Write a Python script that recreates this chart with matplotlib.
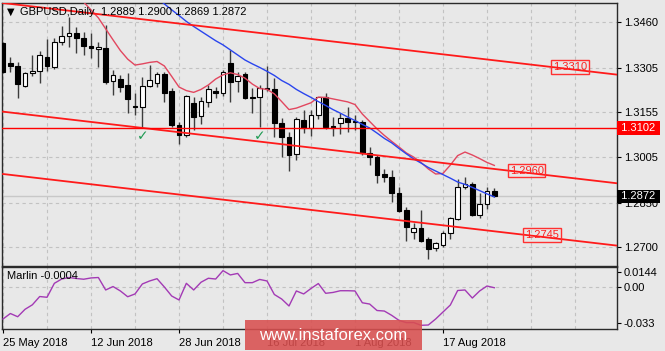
import numpy as np
import matplotlib
matplotlib.use('Agg')
import matplotlib.pyplot as plt
from matplotlib.patches import Rectangle
from matplotlib.transforms import blended_transform_factory

plt.rcParams['font.family'] = ['Liberation Sans', 'DejaVu Sans']
plt.rcParams['font.size'] = 8

# daily GBPUSD candles, 25 May 2018 .. 28 Aug 2018
opens = [1.3387, 1.3320, 1.3311, 1.3243, 1.3286, 1.3295, 1.3342, 1.3308, 1.3391, 1.3412,
         1.3421, 1.3404, 1.3379, 1.3367, 1.3373, 1.3261, 1.3266, 1.3247, 1.3176, 1.3172,
         1.3243, 1.3255, 1.3283, 1.3228, 1.3112, 1.3078, 1.3185, 1.3142, 1.3191, 1.3228,
         1.3221, 1.3320, 1.3261, 1.3284, 1.3207, 1.3207, 1.3236, 1.3232, 1.3120, 1.3073,
         1.3013, 1.3129, 1.3101, 1.3146, 1.3205, 1.3109, 1.3118, 1.3135, 1.3126, 1.3123,
         1.3017, 1.3005, 1.2947, 1.2938, 1.2882, 1.2826, 1.2752, 1.2766, 1.2727, 1.2697,
         1.2708, 1.2747, 1.2794, 1.2902, 1.2913, 1.2809, 1.2846, 1.2889]
highs = [1.3393, 1.3342, 1.3325, 1.3292, 1.3348, 1.3362, 1.3401, 1.3404, 1.3446, 1.3475,
         1.3441, 1.3426, 1.3423, 1.3391, 1.3449, 1.3297, 1.3281, 1.3286, 1.3221, 1.3273,
         1.3314, 1.3292, 1.3292, 1.3236, 1.3123, 1.3213, 1.3205, 1.3207, 1.3247, 1.3241,
         1.3297, 1.3365, 1.3292, 1.3290, 1.3236, 1.3247, 1.3310, 1.3270, 1.3135, 1.3090,
         1.3140, 1.3163, 1.3163, 1.3207, 1.3219, 1.3140, 1.3151, 1.3174, 1.3146, 1.3129,
         1.3037, 1.3011, 1.2963, 1.2960, 1.2904, 1.2837, 1.2781, 1.2826, 1.2734, 1.2719,
         1.2756, 1.2803, 1.2929, 1.2938, 1.2921, 1.2882, 1.2902, 1.2900]
lows = [1.3288, 1.3292, 1.3202, 1.3241, 1.3278, 1.3255, 1.3295, 1.3300, 1.3382, 1.3374,
        1.3354, 1.3348, 1.3337, 1.3308, 1.3250, 1.3213, 1.3224, 1.3152, 1.3146, 1.3101,
        1.3239, 1.3241, 1.3191, 1.3104, 1.3048, 1.3071, 1.3095, 1.3115, 1.3174, 1.3202,
        1.3210, 1.3191, 1.3224, 1.3199, 1.3152, 1.3106, 1.3225, 1.3073, 1.3005, 1.2958,
        1.2994, 1.3084, 1.3075, 1.3131, 1.3100, 1.3075, 1.3082, 1.3090, 1.3095, 1.3011,
        1.2976, 1.2917, 1.2921, 1.2854, 1.2820, 1.2722, 1.2727, 1.2719, 1.2660, 1.2689,
        1.2700, 1.2727, 1.2792, 1.2895, 1.2805, 1.2798, 1.2828, 1.2869]
closes = [1.3292, 1.3312, 1.3250, 1.3286, 1.3295, 1.3348, 1.3312, 1.3391, 1.3412, 1.3421,
          1.3404, 1.3379, 1.3371, 1.3376, 1.3258, 1.3280, 1.3241, 1.3199, 1.3172, 1.3243,
          1.3264, 1.3283, 1.3221, 1.3112, 1.3078, 1.3210, 1.3140, 1.3194, 1.3232, 1.3221,
          1.3290, 1.3258, 1.3277, 1.3202, 1.3202, 1.3236, 1.3232, 1.3118, 1.3071, 1.3011,
          1.3131, 1.3101, 1.3146, 1.3205, 1.3106, 1.3103, 1.3135, 1.3123, 1.3122, 1.3017,
          1.3005, 1.2943, 1.2938, 1.2882, 1.2822, 1.2770, 1.2766, 1.2722, 1.2693, 1.2713,
          1.2747, 1.2798, 1.2902, 1.2913, 1.2809, 1.2846, 1.2891, 1.2872]

# moving averages (red starts at bar 10, blue at bar 21)
red_start = 10
red_ma = [1.3553, 1.3526, 1.3500, 1.3473, 1.3436, 1.3399, 1.3363, 1.3334, 1.3314, 1.3318,
          1.3323, 1.3326, 1.3311, 1.3276, 1.3240, 1.3228, 1.3222, 1.3232, 1.3247, 1.3267,
          1.3281, 1.3288, 1.3282, 1.3270, 1.3250, 1.3235, 1.3232, 1.3217, 1.3191, 1.3164,
          1.3169, 1.3178, 1.3187, 1.3206, 1.3205, 1.3200, 1.3195, 1.3190, 1.3181, 1.3149,
          1.3124, 1.3099, 1.3077, 1.3057, 1.3038, 1.3018, 1.3004, 1.2986, 1.2964, 1.2947,
          1.2949, 1.2977, 1.3009, 1.3021, 1.3011, 1.2999, 1.2986, 1.2976]
blue_start = 21
blue_ma = [1.3540, 1.3520, 1.3500, 1.3481, 1.3461, 1.3444, 1.3428, 1.3412, 1.3396, 1.3382,
           1.3365, 1.3348, 1.3331, 1.3318, 1.3306, 1.3293, 1.3279, 1.3262, 1.3249, 1.3232,
           1.3218, 1.3205, 1.3191, 1.3178, 1.3164, 1.3152, 1.3139, 1.3127, 1.3114, 1.3102,
           1.3085, 1.3067, 1.3052, 1.3033, 1.3015, 1.2998, 1.2984, 1.2969, 1.2957, 1.2945,
           1.2933, 1.2920, 1.2912, 1.2902, 1.2891, 1.2880, 1.2870]

# Marlin oscillator
marlin = [-0.0295, -0.0244, -0.0274, -0.0205, -0.0163, -0.0086, -0.0093, 0.0037, 0.0077, 0.0091,
          0.0082, 0.0075, 0.0087, 0.0091, -0.0025, 0.0007, -0.0034, -0.0088, -0.0062, 0.0031,
          0.0059, 0.0080, 0.0003, -0.0081, -0.0118, 0.0037, -0.0025, 0.0047, 0.0084, 0.0077,
          0.0155, 0.0115, 0.0129, 0.0043, 0.0043, 0.0073, 0.0059, -0.0067, -0.0109, -0.0174,
          -0.0034, -0.0062, -0.0011, 0.0035, -0.0056, -0.0048, -0.0032, -0.0032, -0.0034, -0.0144,
          -0.0156, -0.0216, -0.0221, -0.0261, -0.0308, -0.0329, -0.0328, -0.0354, -0.0351, -0.0295,
          -0.0230, -0.0165, -0.0030, -0.0025, -0.0100, -0.0034, 0.0012, -0.0004]

# channel lines: price at bar 0 and at bar 84
channel_bars = [0, 84]
channel_top = [1.3523, 1.3281]
channel_mid = [1.3157, 1.2915]
channel_low = [1.2947, 1.2705]
channel_labels = ['1.3310', '1.2960', '1.2745']
label_bars = [75.0, 69.1, 71.2]
support_level = 1.3102
last_price = 1.2872
touch_bars = [19, 35]

price_ticks = [1.2700, 1.2850, 1.3005, 1.3155, 1.3305, 1.3460]
osc_ticks = [0.0144, 0.0, -0.033]
osc_tick_labels = ['0.0144', '0.00', '-0.033']
date_idx = [0, 12, 24, 36, 48, 60]
date_labels = ['25 May 2018', '12 Jun 2018', '28 Jun 2018', '16 Jul 2018', '1 Aug 2018', '17 Aug 2018']

bg = '#e8e8e8'
grid_c = '#c2c2c2'
W, H = 665, 351
fig = plt.figure(figsize=(W / 100, H / 100), dpi=100, facecolor=bg)
ax = fig.add_axes([2 / W, 1 - 265.7 / H, 615 / W, 263 / H], facecolor=bg)
osc = fig.add_axes([2 / W, 1 - 329.3 / H, 615 / W, 62.1 / H], facecolor=bg)

xmin, xmax = -0.14, 83.73
n = len(opens)
x = np.arange(n)

# grid
for g in range(0, 85, 6):
    ax.axvline(g, color=grid_c, lw=0.8, ls=(0, (3, 3)), zorder=0)
    osc.axvline(g, color=grid_c, lw=0.8, ls=(0, (3, 3)), zorder=0)
for p in price_ticks:
    ax.axhline(p, color=grid_c, lw=0.8, ls=(0, (3, 3)), zorder=0)
osc.axhline(0, color=grid_c, lw=0.8, ls=(0, (3, 3)), zorder=0)
ax.axhline(last_price, color='#c8c8c8', lw=1, zorder=0.5)

# candles
o = np.array(opens)
c = np.array(closes)
ax.vlines(x, lows, highs, color='#3c3c3c', lw=1, zorder=2)
up = c >= o
ax.bar(x[up], c[up] - o[up], bottom=o[up], width=0.62, color='white', edgecolor='black', lw=0.8, zorder=3)
ax.bar(x[~up], o[~up] - c[~up], bottom=c[~up], width=0.62, color='black', edgecolor='black', lw=0.8, zorder=3)

# moving averages
ax.plot(np.arange(red_start, red_start + len(red_ma)), red_ma, color='#e2475f', lw=1, zorder=4)
ax.plot(np.arange(blue_start, blue_start + len(blue_ma)), blue_ma, color='#2a45ee', lw=1, zorder=4)

# channel and level lines
for line in [channel_top, channel_mid, channel_low]:
    ax.plot(channel_bars, line, color='#ff1a1a', lw=1.3, zorder=5)
ax.axhline(support_level, color='#ff0000', lw=1, zorder=5)

for line, lab, b in zip([channel_top, channel_mid, channel_low], channel_labels, label_bars):
    yv = np.interp(b, channel_bars, line)
    ax.text(b, yv, lab, color='#ff2020', fontsize=8, ha='left', va='center', zorder=6,
            bbox=dict(boxstyle='square,pad=0.15', fc='none', ec='#ff3030', lw=1))

for b in touch_bars:
    ax.text(b, support_level - 0.0004, '\u2713', color='#1e9a52', fontsize=10,
            ha='center', va='top', zorder=6, family=['DejaVu Sans'])

ax.set_xlim(xmin, xmax)
ax.set_ylim(1.26381, 1.35241)
ax.yaxis.tick_right()
ax.set_yticks(price_ticks)
ax.set_yticklabels(['%.4f' % p for p in price_ticks])
ax.tick_params(axis='y', length=3, pad=2, colors='black', labelsize=8)
ax.tick_params(axis='x', length=0, labelbottom=False)

trans = blended_transform_factory(ax.transAxes, ax.transData)
ax.text(1.002, support_level, ' 1.3102 ', transform=trans, color='white', fontsize=8, ha='left', va='center',
        clip_on=False, zorder=10, bbox=dict(boxstyle='square,pad=0.15', fc='#ff0000', ec='none'))
ax.text(1.002, last_price, ' 1.2872 ', transform=trans, color='white', fontsize=8, ha='left', va='center',
        clip_on=False, zorder=10, bbox=dict(boxstyle='square,pad=0.15', fc='black', ec='none'))

# oscillator
osc.plot(x, marlin, color='#a33ab5', lw=1, zorder=3)
osc.set_xlim(xmin, xmax)
osc.set_ylim(-0.0391, 0.0187)
osc.yaxis.tick_right()
osc.set_yticks(osc_ticks)
osc.set_yticklabels(osc_tick_labels)
osc.tick_params(axis='y', length=3, pad=2, labelsize=8)
osc.set_xticks(date_idx)
osc.set_xticklabels(date_labels)
osc.tick_params(axis='x', length=3, pad=3, labelsize=8)
for lab in osc.get_xticklabels():
    lab.set_ha('left')
osc.text(0.008, 0.86, 'Marlin -0.0004', transform=osc.transAxes, fontsize=8, va='center', ha='left')

for a in (ax, osc):
    for s in a.spines.values():
        s.set_color('#2a2a2a')
        s.set_linewidth(1)

# header
fig.text(7 / W, 1 - 12 / H, '\u25bc', fontsize=7, va='center', ha='left', family=['DejaVu Sans'])
fig.text(20 / W, 1 - 12 / H, 'GBPUSD,Daily  1.2889 1.2900 1.2869 1.2872', fontsize=8, va='center', ha='left')

# watermark
fig.add_artist(Rectangle((245 / W, 1 - 350 / H), 177 / W, 30 / H, transform=fig.transFigure,
                         fc='#d94f4f', alpha=0.88, ec='none', zorder=20))
fig.text(333 / W, 1 - 335 / H, 'www.instaforex.com', color='white', fontsize=12,
         ha='center', va='center', zorder=21)

fig.savefig('out.png', dpi=100, facecolor=bg)
